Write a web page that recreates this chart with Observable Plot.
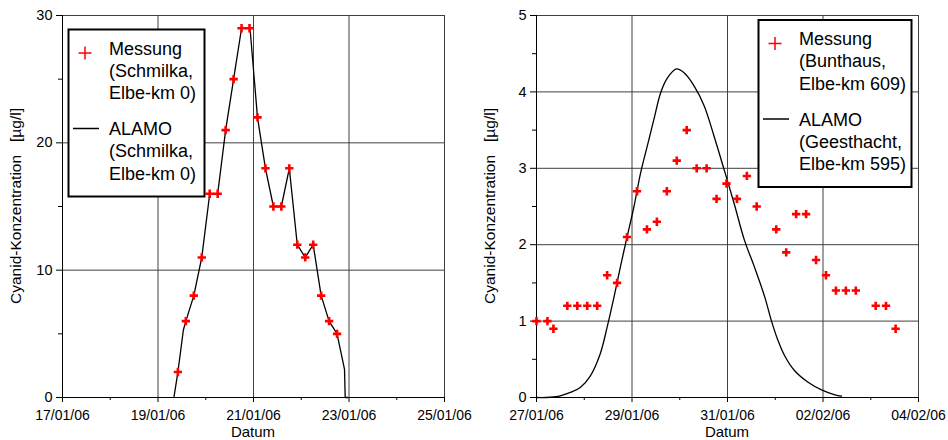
<!DOCTYPE html>
<html><head><meta charset="utf-8">
<script src="https://cdn.jsdelivr.net/npm/d3@7"></script>
<script src="https://cdn.jsdelivr.net/npm/@observablehq/plot@0.6"></script>
<style>
html,body{margin:0;padding:0;background:#fff;}
#row{display:flex;width:948px;height:440px;}
#row > div{width:474px;height:440px;}
svg{display:block}
</style></head><body><div id="row"><div id="left"></div><div id="right"></div></div>
<script>
const parseT = d3.utcParse("%d/%m/%y %H:%M");
const parseD = d3.utcParse("%d/%m/%y");
const fmtD = d3.utcFormat("%d/%m/%y");

const yAxisLabel = "Cyanid-Konzentration\u00a0\u00a0\u00a0[µg/l]";
const xAxisLabel = "Datum";

// ---- Left chart (Schmilka) ----
const leftXTickLabels = ["17/01/06","19/01/06","21/01/06","23/01/06","25/01/06"];
const leftXMinorTicks = ["18/01/06","20/01/06","22/01/06","24/01/06"];
const leftYTicks = [0,10,20,30];
const leftYMinorTicks = [5,15,25];
const leftMessTimes = ["19/01/06 10:00","19/01/06 14:00","19/01/06 18:00","19/01/06 22:00","20/01/06 02:00","20/01/06 06:00","20/01/06 10:00","20/01/06 14:00","20/01/06 18:00","20/01/06 22:00","21/01/06 02:00","21/01/06 06:00","21/01/06 10:00","21/01/06 14:00","21/01/06 18:00","21/01/06 22:00","22/01/06 02:00","22/01/06 06:00","22/01/06 10:00","22/01/06 14:00","22/01/06 18:00"];
const leftMessValues = [2,6,8,11,16,16,21,25,29,29,22,18,15,15,18,12,11,12,8,6,5];
const leftModelTimes = ["19/01/06 08:00","19/01/06 10:00","19/01/06 12:45","19/01/06 14:00","19/01/06 18:00","19/01/06 22:00","20/01/06 02:00","20/01/06 06:00","20/01/06 10:00","20/01/06 14:00","20/01/06 18:00","20/01/06 22:15","21/01/06 02:00","21/01/06 06:00","21/01/06 10:00","21/01/06 14:00","21/01/06 18:00","21/01/06 22:00","22/01/06 02:00","22/01/06 06:00","22/01/06 10:00","22/01/06 14:00","22/01/06 18:00","22/01/06 21:45","22/01/06 22:05","22/01/06 23:25"];
const leftModelValues = [0,2,5.3,6,8,11,16,16,21,25,29,29,22,18,15,15,18,12,11,12,8,6,5,2.2,0,0];
const leftMessLegend = ["Messung","(Schmilka,","Elbe-km 0)"];
const leftModelLegend = ["ALAMO","(Schmilka,","Elbe-km 0)"];

// ---- Right chart (Bunthaus / Geesthacht) ----
const rightXTickLabels = ["27/01/06","29/01/06","31/01/06","02/02/06","04/02/06"];
const rightXMinorTicks = ["28/01/06","30/01/06","01/02/06","03/02/06"];
const rightYTicks = [0,1,2,3,4,5];
const rightYMinorTicks = [0.5,1.5,2.5,3.5,4.5];
const rightMessTimes = ["27/01/06 00:00","27/01/06 05:30","27/01/06 08:30","27/01/06 15:30","27/01/06 20:30","28/01/06 01:30","28/01/06 06:30","28/01/06 11:30","28/01/06 16:30","28/01/06 21:30","29/01/06 02:30","29/01/06 07:30","29/01/06 12:30","29/01/06 17:30","29/01/06 22:30","30/01/06 03:30","30/01/06 08:30","30/01/06 13:30","30/01/06 18:30","30/01/06 23:30","31/01/06 04:45","31/01/06 09:45","31/01/06 14:40","01/02/06 00:30","01/02/06 05:30","01/02/06 10:30","01/02/06 15:30","01/02/06 20:30","02/02/06 01:30","02/02/06 06:30","02/02/06 11:30","02/02/06 16:30","03/02/06 02:30","03/02/06 07:40","03/02/06 12:30"];
const rightMessValues = [1.0,1.0,0.9,1.2,1.2,1.2,1.2,1.6,1.5,2.1,2.7,2.2,2.3,2.7,3.1,3.5,3.0,3.0,2.6,2.8,2.6,2.9,2.5,2.2,1.9,2.4,2.4,1.8,1.6,1.4,1.4,1.4,1.2,1.2,0.9];
const rightModelTimes = ["27/01/06 00:00","27/01/06 10:00","27/01/06 17:00","27/01/06 22:00","28/01/06 03:00","28/01/06 08:00","28/01/06 11:30","28/01/06 15:00","28/01/06 18:15","28/01/06 21:15","29/01/06 01:00","29/01/06 04:20","29/01/06 07:40","29/01/06 11:00","29/01/06 14:25","29/01/06 17:45","29/01/06 22:20","30/01/06 02:10","30/01/06 07:10","30/01/06 12:15","30/01/06 17:15","30/01/06 22:20","31/01/06 03:20","31/01/06 08:30","31/01/06 13:30","31/01/06 18:40","31/01/06 22:00","01/02/06 01:20","01/02/06 04:40","01/02/06 09:45","01/02/06 16:30","01/02/06 23:15","02/02/06 06:00","02/02/06 09:20"];
const rightModelValues = [0,0.01,0.066,0.13,0.28,0.57,0.92,1.32,1.72,2.07,2.50,2.94,3.29,3.64,3.99,4.18,4.30,4.25,4.08,3.82,3.42,2.98,2.54,2.06,1.71,1.32,1.01,0.75,0.55,0.35,0.20,0.10,0.035,0.018];
const rightMessLegend = ["Messung","(Bunthaus,","Elbe-km 609)"];
const rightModelLegend = ["ALAMO","(Geesthacht,","Elbe-km 595)"];

const FONT = "'Liberation Sans', Arial, Helvetica, sans-serif";

function chart(c) {
  const xMajor = c.xTicks.map(parseD);
  const xMinor = c.xMinor.map(parseD);
  const mess = c.messTimes.map((t, i) => ({t: parseT(t), v: c.messValues[i]}));
  const model = c.modelTimes.map((t, i) => ({t: parseT(t), v: c.modelValues[i]}));
  const W = 474, H = 440, mL = 62, mR = 30, mT = 15, mB = 43;
  const svg = Plot.plot({
    width: W, height: H,
    marginLeft: mL, marginRight: mR, marginTop: mT, marginBottom: mB,
    style: {fontFamily: FONT, fontSize: "14px", background: "#fff", color: "#000"},
    x: {type: "utc", domain: [xMajor[0], xMajor[xMajor.length - 1]]},
    y: {domain: [c.yTicks[0], c.yTicks[c.yTicks.length - 1]]},
    marks: [
      Plot.gridX(xMajor.slice(1), {stroke: "#404040", strokeOpacity: 1}),
      Plot.gridY(c.yTicks.slice(1), {stroke: "#404040", strokeOpacity: 1}),
      Plot.axisX(xMinor, {tickSize: 3, tickFormat: () => "", label: null}),
      Plot.axisX(xMajor, {tickSize: 5, tickPadding: 8, tickFormat: fmtD, fontSize: 14, label: null}),
      Plot.axisY(c.yMinor, {tickSize: 4, tickFormat: () => "", label: null}),
      Plot.axisY(c.yTicks, {tickSize: 6, tickPadding: 4, tickFormat: "~g", fontSize: 14.5, label: null}),
      Plot.ruleY([c.yTicks[0]], {stroke: "#000"}),
      Plot.ruleX([xMajor[0]], {stroke: "#000"}),
      Plot.line(model, {x: "t", y: "v", stroke: "#000", strokeWidth: 1.3, curve: c.curve}),
      Plot.dot(mess, {x: "t", y: "v", symbol: "plus", r: 2.8, stroke: "#ff0000", strokeWidth: 2.6})
    ]
  });
  const s = d3.select(svg);
  // axis titles
  s.append("text").attr("x", mL + (W - mL - mR) / 2).attr("y", 437)
    .attr("text-anchor", "middle").attr("font-family", FONT).attr("font-size", 15)
    .attr("fill", "#000").text(xAxisLabel);
  s.append("text").attr("transform", `translate(21,${mT + (H - mT - mB) / 2}) rotate(-90)`)
    .attr("text-anchor", "middle").attr("font-family", FONT).attr("font-size", 15.5)
    .attr("fill", "#000").text(yAxisLabel);
  // legend box inside the plot
  const L = c.legend;
  const g = s.append("g")
    .attr("font-family", FONT).attr("font-size", 18).attr("fill", "#000").attr("text-anchor", "start");
  g.append("rect").attr("x", L.x).attr("y", L.y).attr("width", L.w).attr("height", L.h)
    .attr("fill", "#fff").attr("stroke", "#000").attr("stroke-width", 2);
  const px = L.x + 16.5, py = L.y + 23.5, a = 6.5;
  g.append("path").attr("d", `M${px - a},${py}H${px + a}M${px},${py - a}V${py + a}`)
    .attr("stroke", "#ff0000").attr("stroke-width", 1.5).attr("fill", "none");
  g.append("path").attr("d", `M${L.x + 4.5},${L.y + 99}H${L.x + 30.5}`)
    .attr("stroke", "#000").attr("stroke-width", 1.5);
  const base1 = [25, 47.4, 69.8], base2 = [105.5, 127.8, 150];
  c.messLegend.forEach((t, i) => g.append("text").attr("x", L.x + 40.5).attr("y", L.y + base1[i]).text(t));
  c.modelLegend.forEach((t, i) => g.append("text").attr("x", L.x + 40.5).attr("y", L.y + base2[i]).text(t));
  return svg;
}

document.getElementById("left").append(chart({
  xTicks: leftXTickLabels, xMinor: leftXMinorTicks, yTicks: leftYTicks, yMinor: leftYMinorTicks,
  messTimes: leftMessTimes, messValues: leftMessValues,
  modelTimes: leftModelTimes, modelValues: leftModelValues, curve: "linear",
  messLegend: leftMessLegend, modelLegend: leftModelLegend,
  legend: {x: 68.5, y: 29.5, w: 136, h: 167}
}));
document.getElementById("right").append(chart({
  xTicks: rightXTickLabels, xMinor: rightXMinorTicks, yTicks: rightYTicks, yMinor: rightYMinorTicks,
  messTimes: rightMessTimes, messValues: rightMessValues,
  modelTimes: rightModelTimes, modelValues: rightModelValues, curve: "catmull-rom",
  messLegend: rightMessLegend, modelLegend: rightModelLegend,
  legend: {x: 284.5, y: 20, w: 153, h: 167}
}));
</script></body></html>
